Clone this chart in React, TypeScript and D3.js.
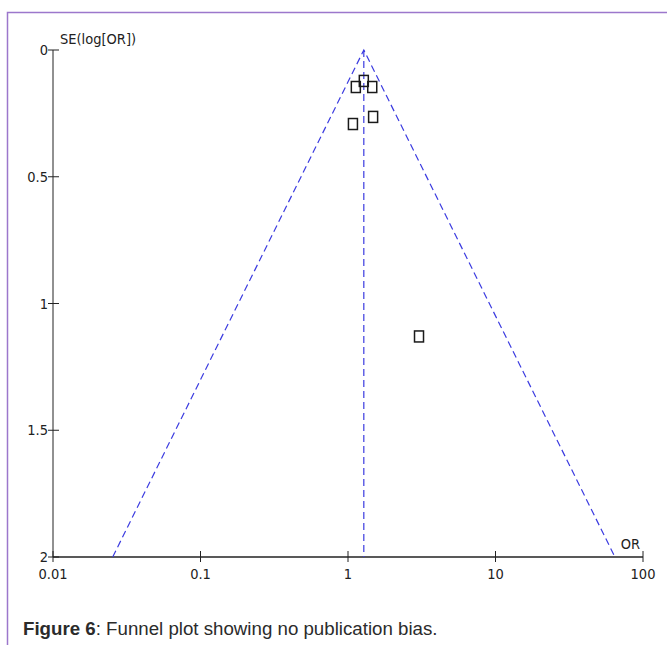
import { useEffect, useRef } from "react";
import * as d3 from "d3";

// study estimates: odds ratio and SE(log OR)
const studyOR = [1.28, 1.13, 1.46, 1.08, 1.48, 3.03];
const studySE = [0.122, 0.146, 0.146, 0.292, 0.264, 1.13];
const pooledOR = 1.28;
const maxSE = 2;

const xTicks = [0.01, 0.1, 1, 10, 100];
const xTickLabels = ["0.01", "0.1", "1", "10", "100"];
const yTicks = [0, 0.5, 1, 1.5, 2];
const yTickLabels = ["0", "0.5", "1", "1.5", "2"];

const W = 667;
const H = 645;

export default function App() {
  const ref = useRef<SVGSVGElement>(null);

  useEffect(() => {
    const svg = d3.select(ref.current);
    svg.selectAll("*").remove();

    const font = "'DejaVu Sans Condensed', 'Liberation Sans Narrow', sans-serif";
    const x = d3.scaleLog().domain([0.01, 100]).range([53, 643]);
    const y = d3.scaleLinear().domain([0, 2]).range([50, 557]);

    // frame
    svg
      .append("path")
      .attr("d", `M7.5,${H} V12.5 H${W}`)
      .attr("fill", "none")
      .attr("stroke", "#9c77cc")
      .attr("stroke-width", 1.5);

    const ink = "#222";
    const label = (sel: d3.Selection<SVGTextElement, unknown, null, undefined>) =>
      sel
        .attr("font-family", font)
        .attr("font-stretch", "condensed")
        .attr("font-size", 14.5)
        .attr("fill", ink);

    // y axis
    svg
      .append("line")
      .attr("x1", x(0.01))
      .attr("x2", x(0.01))
      .attr("y1", y(0))
      .attr("y2", y(2))
      .attr("stroke", ink)
      .attr("stroke-width", 1);
    yTicks.forEach((t, i) => {
      svg
        .append("line")
        .attr("x1", x(0.01) - 5)
        .attr("x2", x(0.01) + 6)
        .attr("y1", y(t))
        .attr("y2", y(t))
        .attr("stroke", ink);
      svg
        .append("text")
        .attr("x", x(0.01) - 5)
        .attr("y", y(t) + 5)
        .attr("text-anchor", "end")
        .call(label)
        .text(yTickLabels[i]);
    });

    // x axis
    svg
      .append("line")
      .attr("x1", x(0.01))
      .attr("x2", x(100))
      .attr("y1", y(2))
      .attr("y2", y(2))
      .attr("stroke", ink)
      .attr("stroke-width", 1.5);
    xTicks.forEach((t, i) => {
      svg
        .append("line")
        .attr("x1", x(t))
        .attr("x2", x(t))
        .attr("y1", y(2) - 6)
        .attr("y2", y(2) + 5)
        .attr("stroke", ink);
      svg
        .append("text")
        .attr("x", x(t))
        .attr("y", y(2) + 22)
        .attr("text-anchor", "middle")
        .call(label)
        .text(xTickLabels[i]);
    });

    // axis titles
    svg
      .append("text")
      .attr("x", x(0.01) + 7)
      .attr("y", y(0) - 6)
      .call(label)
      .text("SE(log[OR])");
    svg
      .append("text")
      .attr("x", x(100) - 3)
      .attr("y", y(2) - 8)
      .attr("text-anchor", "end")
      .call(label)
      .text("OR");

    // funnel
    const lp = Math.log(pooledOR);
    const blue = "#3b3be0";
    const funnel = [
      [Math.exp(lp - 1.96 * maxSE), maxSE],
      [pooledOR, 0],
      [Math.exp(lp + 1.96 * maxSE), maxSE],
    ];
    const line = d3
      .line<number[]>()
      .x((d) => x(d[0]))
      .y((d) => y(d[1]));
    svg
      .append("path")
      .attr("d", line(funnel))
      .attr("fill", "none")
      .attr("stroke", blue)
      .attr("stroke-width", 1.2)
      .attr("stroke-dasharray", "7,4");
    svg
      .append("path")
      .attr("d", line([[pooledOR, 0], [pooledOR, maxSE]]))
      .attr("fill", "none")
      .attr("stroke", blue)
      .attr("stroke-width", 1.2)
      .attr("stroke-dasharray", "7,4");

    // studies
    studyOR.forEach((or, i) => {
      svg
        .append("rect")
        .attr("x", x(or) - 4.5)
        .attr("y", y(studySE[i]) - 5.5)
        .attr("width", 9)
        .attr("height", 11)
        .attr("fill", "none")
        .attr("stroke", "#1a1a1a")
        .attr("stroke-width", 1.5);
    });

    // caption
    const cap = svg
      .append("text")
      .attr("x", 23)
      .attr("y", 635)
      .attr("font-family", "'Liberation Sans', Arial, sans-serif")
      .attr("font-size", 18.7)
      .attr("fill", "#2b2b2b");
    cap.append("tspan").attr("font-weight", "bold").text("Figure 6");
    cap.append("tspan").text(": Funnel plot showing no publication bias.");
  }, []);

  return (
    <svg
      ref={ref}
      width={W}
      height={H}
      style={{ position: "absolute", left: 0, top: 0, background: "#fff" }}
    />
  );
}
